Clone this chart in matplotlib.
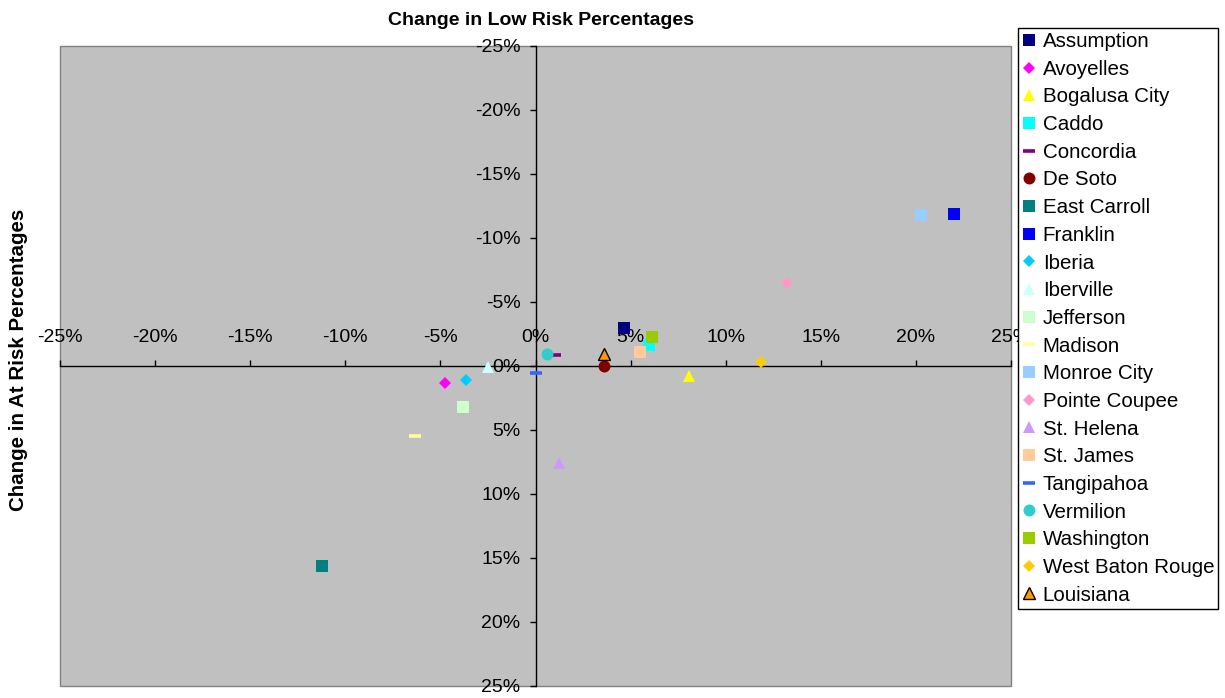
import matplotlib
matplotlib.use("Agg")
import matplotlib.pyplot as plt
from matplotlib.ticker import FuncFormatter, MultipleLocator

plt.rcParams['font.family'] = ['Liberation Sans', 'DejaVu Sans']

# Parish / district changes (percentage points)
names = ["Assumption", "Avoyelles", "Bogalusa City", "Caddo", "Concordia",
         "De Soto", "East Carroll", "Franklin", "Iberia", "Iberville",
         "Jefferson", "Madison", "Monroe City", "Pointe Coupee", "St. Helena",
         "St. James", "Tangipahoa", "Vermilion", "Washington",
         "West Baton Rouge", "Louisiana"]
low_risk_change = [4.67, -4.78, 8.05, 5.95, 1.05,
                   3.62, -11.24, 22.0, -3.64, -2.52,
                   -3.83, -6.36, 20.29, 13.22, 1.24,
                   5.5, 0.03, 0.58, 6.15,
                   11.87, 3.59]
at_risk_change = [-2.95, 1.3, 0.76, -1.64, -0.86,
                  0.0, 15.6, -11.85, 1.09, 0.1,
                  3.18, 5.47, -11.82, -6.51, 7.6,
                  -1.12, 0.57, -0.91, -2.29,
                  -0.29, -0.94]

colors = ["#000080", "#FF00FF", "#FFFF00", "#00FFFF", "#800080",
          "#800000", "#008080", "#0000FF", "#00CCFF", "#CCFFFF",
          "#CCFFCC", "#FFFF99", "#99CCFF", "#FF99CC", "#CC99FF",
          "#FFCC99", "#3366FF", "#33CCCC", "#99CC00",
          "#FFCC00", "#FF9900"]
markers = ["s", "D", "^", "s", "_",
           "o", "s", "s", "D", "^",
           "s", "_", "s", "D", "^",
           "s", "_", "o", "s",
           "D", "^"]

sizes = {"s": 8.6, "D": 6.3, "^": 9.0, "o": 8.6, "_": 8.6}

W, H = 1225, 698
fig = plt.figure(figsize=(W / 100, H / 100), dpi=100)
ax = fig.add_axes([60 / W, 1 - 686 / H, (1011 - 60) / W, (686 - 46) / H])
ax.set_facecolor("#C0C0C0")
ax.patch.set_edgecolor("#808080")
ax.patch.set_linewidth(1.0)

for name, x, y, c, m in zip(names, low_risk_change, at_risk_change, colors, markers):
    if name == "Louisiana":
        ec, mew = "black", 1.0
    elif m == "_":
        ec, mew = c, 2.6
    else:
        ec, mew = c, 0.0
    ax.plot([x], [y], linestyle="none", marker=m, markersize=sizes[m],
            markerfacecolor=c, markeredgecolor=ec, markeredgewidth=mew,
            label=name, zorder=3)

ax.set_xlim(-25, 25)
ax.set_ylim(25, -25)

# axes cross at the origin
for side in ("right", "bottom"):
    ax.spines[side].set_visible(False)
ax.spines["left"].set_position(("data", 0))
ax.spines["top"].set_position(("data", 0))
for side in ("left", "top"):
    ax.spines[side].set_color("black")
    ax.spines[side].set_linewidth(1.0)
    ax.spines[side].set_zorder(2)

ax.xaxis.set_ticks_position("top")
ax.yaxis.set_ticks_position("left")
ax.xaxis.set_major_locator(MultipleLocator(5))
ax.yaxis.set_major_locator(MultipleLocator(5))
pct = FuncFormatter(lambda v, _: f"{v:.0f}%")
ax.xaxis.set_major_formatter(pct)
ax.yaxis.set_major_formatter(pct)
ax.tick_params(axis="x", direction="out", length=4.3, width=1, pad=10,
               labelsize=14, colors="black")
ax.tick_params(axis="y", direction="out", length=4.3, width=1, pad=6.5,
               labelsize=14, colors="black")

ax.set_title("Change in Low Risk Percentages", fontsize=14,
             fontweight="bold", pad=15, x=0.506)
ax.set_ylabel("Change in At Risk Percentages", fontsize=14.8,
              fontweight="bold")
ax.yaxis.set_label_coords(-0.034, 0.509)

leg = fig.legend(loc="upper left", bbox_to_anchor=(1018 / W, 1 - 28 / H),
                 borderaxespad=0, numpoints=1, fontsize=14.8,
                 fancybox=False, edgecolor="black", framealpha=1,
                 handlelength=0.65, handletextpad=0.35, borderpad=0.2,
                 labelspacing=0.422)
leg.get_frame().set_linewidth(1.0)

fig.savefig("out.png", dpi=100)
